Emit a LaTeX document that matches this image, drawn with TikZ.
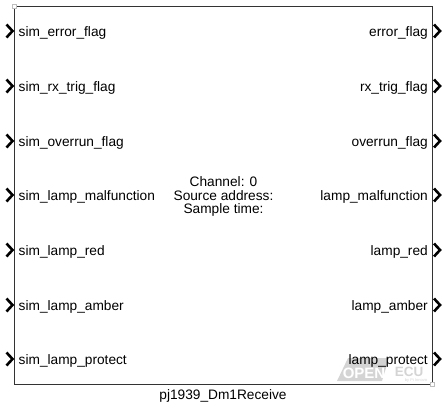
\documentclass[tikz,border=0pt]{standalone}
\usepackage{fontspec}
\setmainfont{Liberation Sans}
\usepackage{xcolor}
\usetikzlibrary{calc,positioning}
\definecolor{bwater}{HTML}{D4D4D4}
\definecolor{bhandle}{HTML}{BDBDBD}
\tikzset{
  bblock/.style={draw=black!80, line width=0.9pt},
  bport/.style={draw=black, line width=2.6pt, line cap=butt, line join=miter},
  bin/.style={anchor=base west, font=\fontsize{13.7}{15}\selectfont, inner sep=0pt},
  bout/.style={anchor=base east, font=\fontsize{13.7}{15}\selectfont, inner sep=0pt},
  binfo/.style={align=center, font=\fontsize{13.7}{13.9}\selectfont, inner sep=0pt},
  bname/.style={font=\fontsize{13.7}{15}\selectfont, inner sep=0pt},
  bhand/.style={fill=white, draw=bhandle, line width=0.5pt},
}

\begin{document}
\begin{tikzpicture}[x=1pt, y=-1pt]
  \useasboundingbox (0,0) rectangle (444,407);

  % marca d'agua
  \fill[bwater] (348,358) -- (389,358) -- (382,381) -- (337,381) -- cycle;
  \node[font=\bfseries\fontsize{15}{15}\selectfont, text=white, inner sep=0pt] (wopen) at (364,373) {OPEN};
  \node[font=\bfseries\fontsize{13.5}{13.5}\selectfont, text=bwater, inner sep=0pt] (wecu) at (409,372) {ECU};
  \node[font=\fontsize{4}{4}\selectfont, text=bwater, inner sep=0pt] (wby) at (416,380.5) {by Pi Innovo};

  % bloco
  \draw[bblock] (14.5,6.5) rectangle (432,384);
  \foreach \p in {(14.5,6.5), (432,384)}
    \draw[bhand] \p ++(-2,-2) rectangle ++(4,4);

  % portas
  \foreach \y/\nin/\nout [count=\i] in {
      31/sim\_error\_flag/error\_flag,
      86/sim\_rx\_trig\_flag/rx\_trig\_flag,
      141/sim\_overrun\_flag/overrun\_flag,
      195/sim\_lamp\_malfunction/lamp\_malfunction,
      250/sim\_lamp\_red/lamp\_red,
      305/sim\_lamp\_amber/lamp\_amber,
      359/sim\_lamp\_protect/lamp\_protect} {
    \draw[bport] (6.5,\y-6.5) -- (12.5,\y) -- (6.5,\y+6.5);
    \draw[bport] (434,\y-6.5) -- (440,\y) -- (434,\y+6.5);
    \node[bin] (in\i) at (18.5,\y+5) {\nin};
    \node[bout] (out\i) at (428,\y+5) {\nout};
  }

  % legenda
  \node[binfo] (info) at (223.5,196.5) {Channel: 0\\Source address:\\Sample time:};
  \node[bname] (bname) at (223,396) {pj1939\_Dm1Receive};

\end{tikzpicture}
\end{document}
